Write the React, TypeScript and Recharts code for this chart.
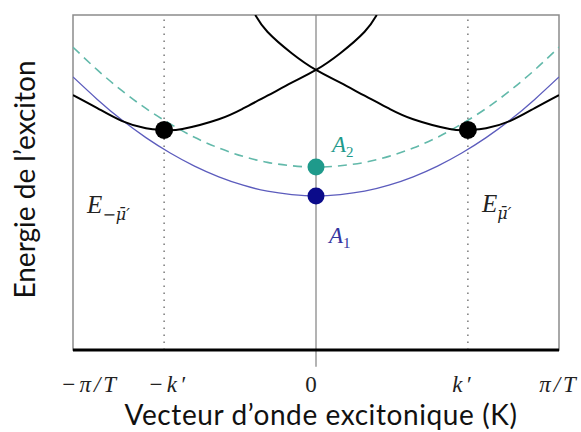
import React from "react";
import {
  ComposedChart,
  Line,
  Scatter,
  XAxis,
  YAxis,
  ReferenceLine,
  ReferenceArea,
} from "recharts";

// Wave vector in units of pi/T, energy in arbitrary units (0 = bottom, 100 = top)
const K_PRIME = 0.625;

const TICK_VALUES = [-1, -K_PRIME, 0, K_PRIME, 1];
const TICK_LABELS = ["−π/T", "−k′", "0", "k′", "π/T"];

// A1 band (solid) and A2 band (dashed), both centred on K = 0
const BAND_K = [-1, -0.9, -0.8, -0.7, -0.6, -0.5, -0.4, -0.3, -0.2, -0.1, 0, 0.1, 0.2, 0.3, 0.4, 0.5, 0.6, 0.7, 0.8, 0.9, 1];
const A1_E = [81.5, 74.8, 68.7, 63.4, 58.8, 54.9, 51.7, 49.2, 47.4, 46.4, 46, 46.4, 47.4, 49.2, 51.7, 54.9, 58.8, 63.4, 68.7, 74.8, 81.5];
const A2_E = [90.4, 83.6, 77.5, 72.1, 67.5, 63.5, 60.3, 57.8, 56.0, 55.0, 54.6, 55.0, 56.0, 57.8, 60.3, 63.5, 67.5, 72.1, 77.5, 83.6, 90.4];

// Dark bands with minima at -k' and +k'
const E_MINUS_K = [-1, -0.9, -0.8, -0.7, -0.625, -0.55, -0.4, -0.3, -0.2, -0.1, 0, 0.1, 0.2, 0.25];
const E_MINUS_E = [76.1, 72.2, 68.4, 66.2, 65.7, 66.0, 68.9, 72.1, 75.9, 79.8, 83.6, 88.6, 95.0, 100];
const E_PLUS_K = [-0.25, -0.2, -0.1, 0, 0.1, 0.2, 0.3, 0.4, 0.55, 0.625, 0.7, 0.8, 0.9, 1];
const E_PLUS_E = [100, 95.0, 88.6, 83.6, 79.8, 75.9, 72.1, 68.9, 66.0, 65.7, 66.2, 68.4, 72.2, 76.1];

// Highlighted states
const DARK_MIN_K = [-K_PRIME, K_PRIME];
const DARK_MIN_E = [65.7, 65.7];
const A2_POINT = { k: 0, e: 54.6 };
const A1_POINT = { k: 0, e: 46 };

// Band names, placed by their start point
const BAND_NAME_K = [-0.942, 0.683];
const BAND_NAME_E = [41, 41.3];
const BAND_NAME_SUB = ["−μ̄′", "μ̄′"];

const zip = (ks: number[], es: number[]) => ks.map((k, i) => ({ k, e: es[i] }));

const a1Data = zip(BAND_K, A1_E);
const a2Data = zip(BAND_K, A2_E);
const minusData = zip(E_MINUS_K, E_MINUS_E);
const plusData = zip(E_PLUS_K, E_PLUS_E);
const darkMinData = zip(DARK_MIN_K, DARK_MIN_E);
const bandNameData = BAND_NAME_K.map((k, i) => ({ k, e: BAND_NAME_E[i], sub: BAND_NAME_SUB[i] }));

const MATH_FONT = "'Liberation Serif', 'DejaVu Serif', serif";
const SUB_FONT = "'DejaVu Serif', serif";
const SANS_FONT = "Lato, 'Open Sans', sans-serif";

const TEAL = "#1f9a8b";
const TEAL_LINE = "#62b9aa";
const BLUE_LINE = "#5c5cbd";
const NAVY = "#0b0b8a";

// horizontal nudges for the tick labels
const TICK_DX = [17, 4, -5, -5, 0];

const MathTick = (props: any) => {
  const { x, y, payload } = props;
  const idx = TICK_VALUES.indexOf(payload.value);
  const label = TICK_LABELS[idx] ?? "";
  return (
    <text
      x={x + (TICK_DX[idx] ?? 0)}
      y={y + 42}
      textAnchor="middle"
      fontFamily={MATH_FONT}
      fontStyle={payload.value === 0 ? "normal" : "italic"}
      fontSize={23}
      letterSpacing={payload.value === 0 ? 0 : 3}
      fill="#222"
    >
      {label}
    </text>
  );
};

const App = () => {
  return (
    <div style={{ position: "absolute", left: 0, top: 0, width: 581, height: 432, background: "#fff" }}>
      <ComposedChart width={581} height={432} margin={{ top: 15, right: 22, bottom: 0, left: 0 }}>
        <XAxis
          dataKey="k"
          type="number"
          domain={[-1, 1]}
          ticks={TICK_VALUES}
          tick={<MathTick />}
          tickLine={false}
          tickSize={0}
          tickMargin={0}
          height={82}
          axisLine={{ stroke: "#000", strokeWidth: 3 }}
          allowDataOverflow
          label={{
            content: (p: any) => {
              const vb = p.viewBox;
              return (
                <text x={vb.x + vb.width / 2 + 5} y={vb.y + 75} textAnchor="middle" fontFamily={SANS_FONT} fontSize={28} letterSpacing={0.6} fill="#111">
                  Vecteur d’onde excitonique (K)
                </text>
              );
            },
          }}
        />
        <YAxis
          dataKey="e"
          type="number"
          domain={[0, 100]}
          width={73}
          axisLine={false}
          tickLine={false}
          tick={false}
          allowDataOverflow
          label={{
            content: (p: any) => {
              const vb = p.viewBox;
              const cx = 35;
              const cy = vb.y + vb.height / 2 - 3;
              return (
                <text x={cx} y={cy} transform={`rotate(-90, ${cx}, ${cy})`} textAnchor="middle" fontFamily={SANS_FONT} fontSize={28} fill="#111">
                  Energie de l’exciton
                </text>
              );
            },
          }}
        />

        {/* plot frame */}
        <ReferenceArea x1={-1} x2={1} y1={0} y2={100} fill="none" stroke="#8c8c8c" strokeWidth={1.5} ifOverflow="visible" />

        {/* K = 0 line, running a little below the axis */}
        <ReferenceLine segment={[{ x: 0, y: 100 }, { x: 0, y: -5 }]} stroke="#8a8a8a" strokeWidth={1.3} ifOverflow="visible" />
        <ReferenceLine x={-K_PRIME} stroke="#7a7a7a" strokeWidth={1.5} strokeDasharray="1.5 5.5" />
        <ReferenceLine x={K_PRIME} stroke="#7a7a7a" strokeWidth={1.5} strokeDasharray="1.5 5.5" />

        <Line data={a2Data} dataKey="e" type="natural" stroke={TEAL_LINE} strokeWidth={1.6} strokeDasharray="9 6" dot={false} isAnimationActive={false} />
        <Line data={a1Data} dataKey="e" type="natural" stroke={BLUE_LINE} strokeWidth={1.3} dot={false} isAnimationActive={false} />
        <Line data={minusData} dataKey="e" type="natural" stroke="#000" strokeWidth={2} dot={false} isAnimationActive={false} />
        <Line data={plusData} dataKey="e" type="natural" stroke="#000" strokeWidth={2} dot={false} isAnimationActive={false} />

        <Scatter
          data={darkMinData}
          dataKey="e"
          isAnimationActive={false}
          shape={(p: any) => <circle cx={p.cx} cy={p.cy} r={9} fill="#000" />}
        />
        <Scatter
          data={[A2_POINT]}
          dataKey="e"
          isAnimationActive={false}
          shape={(p: any) => (
            <g>
              <circle cx={p.cx} cy={p.cy} r={8.5} fill={TEAL} />
              <text x={p.cx + 16} y={p.cy - 15} fontFamily={MATH_FONT} fontStyle="italic" fontSize={23} fill={TEAL}>
                A<tspan dy={5} fontSize={15} fontStyle="normal">2</tspan>
              </text>
            </g>
          )}
        />
        <Scatter
          data={[A1_POINT]}
          dataKey="e"
          isAnimationActive={false}
          shape={(p: any) => (
            <g>
              <circle cx={p.cx} cy={p.cy} r={8.5} fill={NAVY} />
              <text x={p.cx + 13} y={p.cy + 47} fontFamily={MATH_FONT} fontStyle="italic" fontSize={23} fill="#3535a0">
                A<tspan dy={5} fontSize={15} fontStyle="normal">1</tspan>
              </text>
            </g>
          )}
        />
        <Scatter
          data={bandNameData}
          dataKey="e"
          isAnimationActive={false}
          shape={(p: any) => (
            <text x={p.cx} y={p.cy} fontFamily={MATH_FONT} fontStyle="italic" fontSize={25} fill="#222">
              E<tspan dy={7} fontFamily={SUB_FONT} fontSize={16}>{p.payload.sub}</tspan>
            </text>
          )}
        />
      </ComposedChart>
    </div>
  );
};

export default App;
